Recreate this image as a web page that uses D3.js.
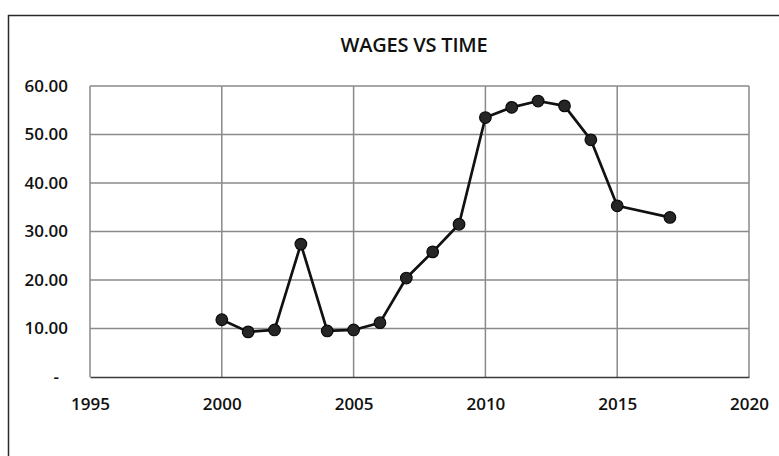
<!DOCTYPE html>
<html>
<head>
<meta charset="utf-8">
<script src="https://cdn.jsdelivr.net/npm/d3@7/dist/d3.min.js"></script>
<style>
  html, body { margin: 0; padding: 0; background: #fff; }
  svg { display: block; }
  text { font-family: "Open Sans", "DejaVu Sans", sans-serif; fill: #111; }
</style>
</head>
<body>
<svg id="chart" width="779" height="456"></svg>
<script>
const title = "WAGES VS TIME";
const years = [2000, 2001, 2002, 2003, 2004, 2005, 2006, 2007, 2008, 2009, 2010, 2011, 2012, 2013, 2014, 2015, 2017];
const wages = [11.8, 9.3, 9.7, 27.4, 9.5, 9.7, 11.2, 20.4, 25.8, 31.5, 53.5, 55.6, 56.9, 55.9, 48.9, 35.3, 32.9];
const xTicks = [1995, 2000, 2005, 2010, 2015, 2020];
const yTicks = [0, 10, 20, 30, 40, 50, 60];

const svg = d3.select("#chart");
const plotL = 90, plotR = 749, plotT = 86, plotB = 377;

// outer frame
svg.append("rect")
  .attr("x", 8.5).attr("y", 15.5)
  .attr("width", 820).attr("height", 520)
  .attr("fill", "none").attr("stroke", "#2a2a2a").attr("stroke-width", 1.5);

const x = d3.scaleLinear().domain([1995, 2020]).range([plotL, plotR]);
const y = d3.scaleLinear().domain([0, 60]).range([plotB, plotT]);

// title
svg.append("text")
  .attr("x", 414).attr("y", 52)
  .attr("text-anchor", "middle")
  .style("font-size", "20px")
  .style("font-weight", "600")
  .style("letter-spacing", "-0.2px")
  .text(title);

// grid
const grid = svg.append("g");
grid.selectAll("line.h").data(yTicks.filter(d => d !== 0)).join("line")
  .attr("x1", plotL).attr("x2", plotR)
  .attr("y1", d => y(d)).attr("y2", d => y(d))
  .attr("stroke", "#8a8a8a").attr("stroke-width", 1.5);
grid.selectAll("line.v").data(xTicks).join("line")
  .attr("x1", d => x(d)).attr("x2", d => x(d))
  .attr("y1", plotT).attr("y2", plotB)
  .attr("stroke", "#8a8a8a").attr("stroke-width", 1.5);

// x axis (bottom)
const xAxis = svg.append("g")
  .attr("transform", `translate(0,${plotB})`)
  .call(d3.axisBottom(x).tickValues(xTicks).tickFormat(d3.format("d")).tickSize(0).tickPadding(21));
xAxis.select(".domain").attr("stroke", "#3a3a3a").attr("stroke-width", 1.7);
xAxis.selectAll("text").style("font-size", "17px").style("font-weight", "600")
  .style("font-family", "'Open Sans', sans-serif").attr("fill", "#111");

// y axis labels
const yAxis = svg.append("g")
  .attr("transform", `translate(${plotL},0)`)
  .call(d3.axisLeft(y).tickValues(yTicks).tickFormat(d => d === 0 ? "-" : d3.format(".2f")(d)).tickSize(0).tickPadding(22));
yAxis.select(".domain").remove();
yAxis.selectAll("text").style("font-size", "17px").style("font-weight", "600")
  .style("font-family", "'Open Sans', sans-serif").attr("fill", "#111");
yAxis.selectAll(".tick").filter(d => d === 0).select("text").attr("x", -31);

// line
const pts = years.map((yr, i) => [yr, wages[i]]);
svg.append("path")
  .datum(pts)
  .attr("fill", "none")
  .attr("stroke", "#111")
  .attr("stroke-width", 2.7)
  .attr("stroke-linejoin", "round")
  .attr("d", d3.line().x(d => x(d[0])).y(d => y(d[1])));

svg.selectAll("circle.pt").data(pts).join("circle")
  .attr("cx", d => x(d[0])).attr("cy", d => y(d[1]))
  .attr("r", 5.8)
  .attr("fill", "#262626")
  .attr("stroke", "#0a0a0a").attr("stroke-width", 1.2);
</script>
</body>
</html>
